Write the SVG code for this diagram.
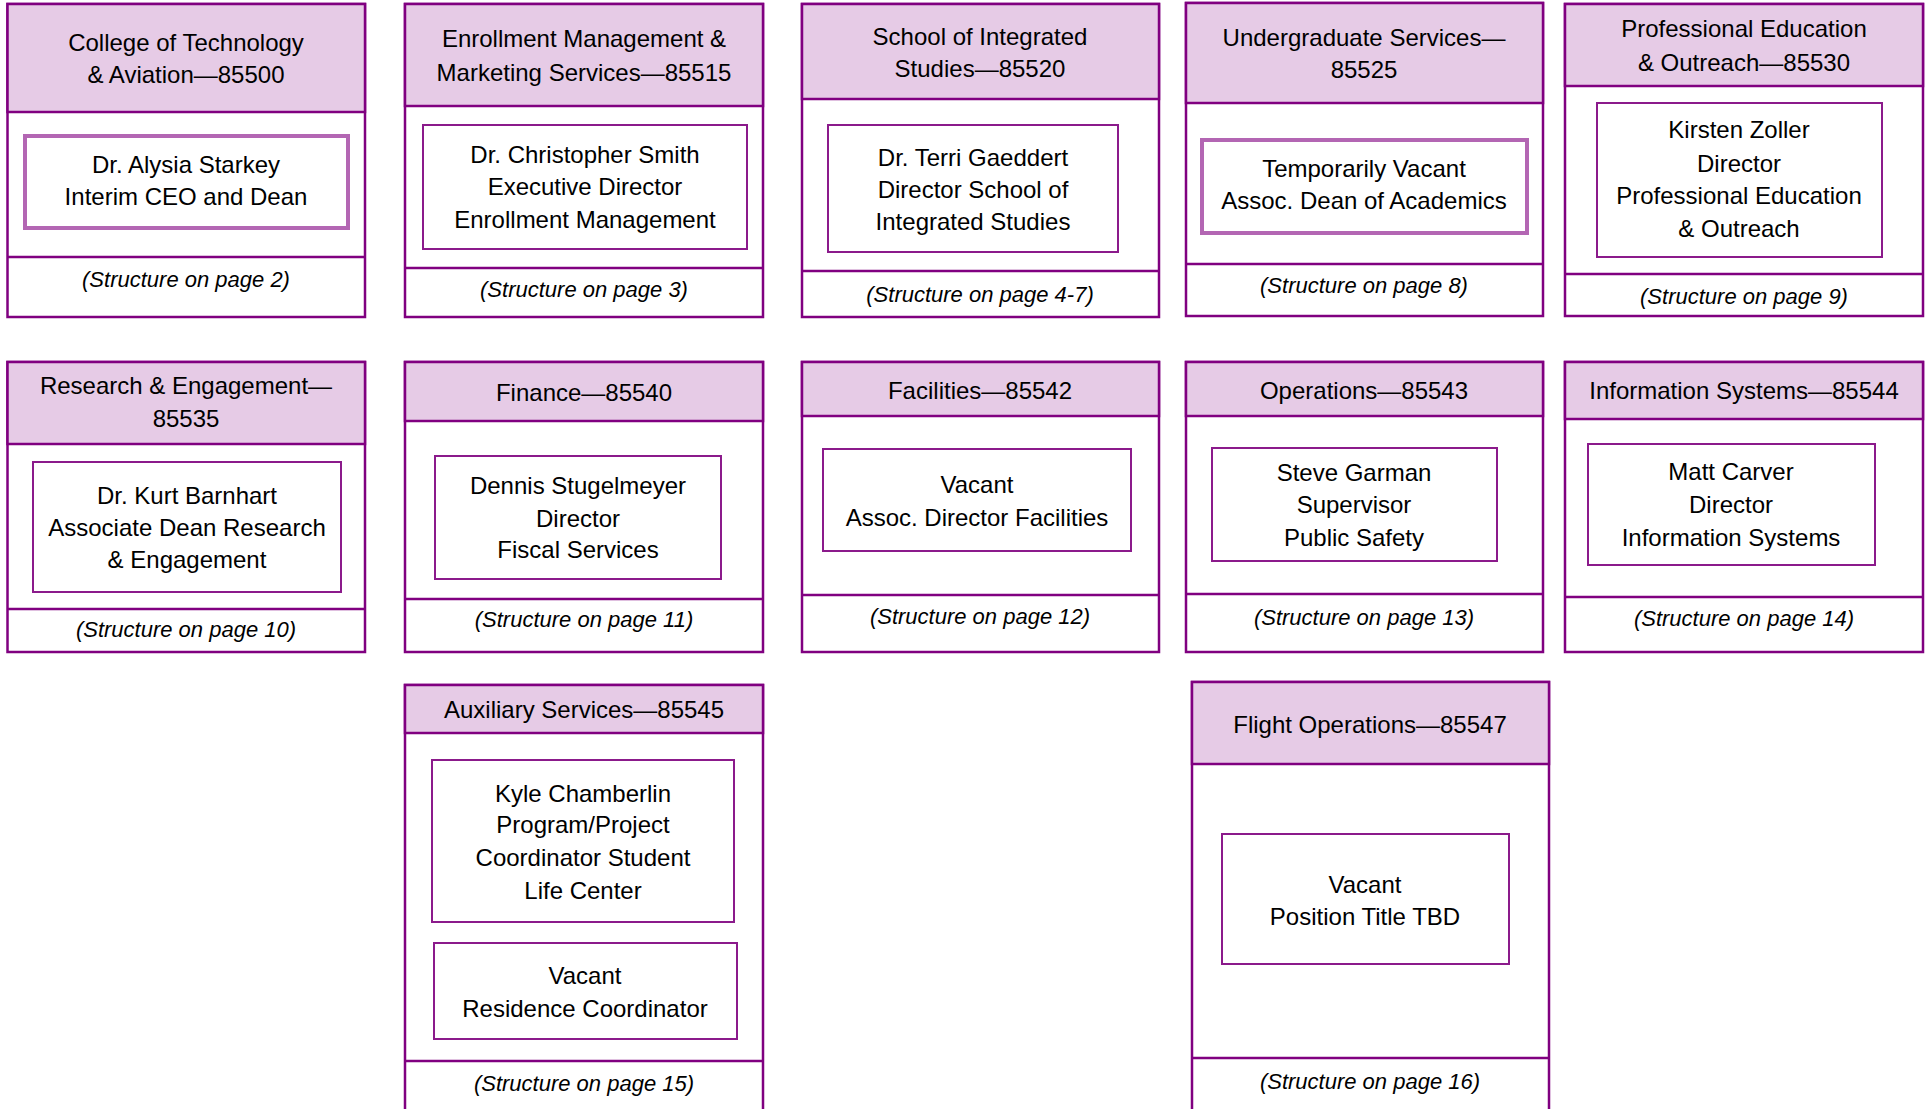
<svg xmlns="http://www.w3.org/2000/svg" width="1931" height="1109" viewBox="0 0 1931 1109">
<style>
.outer{fill:#fff;stroke:#800080;stroke-width:2.5}
.hdr{fill:#e6cbe6;stroke:#800080;stroke-width:2.5}
.sep{stroke:#800080;stroke-width:2.5}
.inner{fill:#fff;stroke:#8b1a8b;stroke-width:2}
.hl{fill:#fff;stroke:#b366b3;stroke-width:4}
text{font-family:"Liberation Sans",Arial,sans-serif;font-size:24px;text-anchor:middle;fill:#000}
.f{font-style:italic;font-size:22px}
</style>
<rect width="1931" height="1109" fill="#fff"/>
<g id="connectors"/>

<g id="n85500">
<rect class="outer" x="7.5" y="4" width="357.5" height="313"/>
<rect class="hdr" x="7.5" y="4" width="357.5" height="108"/>
<line class="sep" x1="7.5" y1="257" x2="365" y2="257"/>
<rect class="hl" x="25" y="136" width="323" height="92"/>
<text x="186" y="51">College of Technology</text>
<text x="186" y="83">&amp; Aviation—85500</text>
<text x="186" y="173">Dr. Alysia Starkey</text>
<text x="186" y="205">Interim CEO and Dean</text>
<text class="f" x="186" y="287">(Structure on page 2)</text>
</g>

<g id="n85515">
<rect class="outer" x="405" y="4" width="358" height="313"/>
<rect class="hdr" x="405" y="4" width="358" height="102"/>
<line class="sep" x1="405" y1="268" x2="763" y2="268"/>
<rect class="inner" x="423" y="125" width="324" height="124"/>
<text x="584" y="47">Enrollment Management &amp;</text>
<text x="584" y="81">Marketing Services—85515</text>
<text x="585" y="163">Dr. Christopher Smith</text>
<text x="585" y="195">Executive Director</text>
<text x="585" y="228">Enrollment Management</text>
<text class="f" x="584" y="297">(Structure on page 3)</text>
</g>

<g id="n85520">
<rect class="outer" x="802" y="4" width="357" height="313"/>
<rect class="hdr" x="802" y="4" width="357" height="95"/>
<line class="sep" x1="802" y1="271" x2="1159" y2="271"/>
<rect class="inner" x="828" y="125" width="290" height="127"/>
<text x="980" y="45">School of Integrated</text>
<text x="980" y="77">Studies—85520</text>
<text x="973" y="166">Dr. Terri Gaeddert</text>
<text x="973" y="198">Director School of</text>
<text x="973" y="230">Integrated Studies</text>
<text class="f" x="980" y="302">(Structure on page 4-7)</text>
</g>

<g id="n85525">
<rect class="outer" x="1186" y="3" width="357" height="313"/>
<rect class="hdr" x="1186" y="3" width="357" height="100"/>
<line class="sep" x1="1186" y1="264" x2="1543" y2="264"/>
<rect class="hl" x="1202" y="140" width="325" height="93"/>
<text x="1364" y="46">Undergraduate Services—</text>
<text x="1364" y="78">85525</text>
<text x="1364" y="177">Temporarily Vacant</text>
<text x="1364" y="209">Assoc. Dean of Academics</text>
<text class="f" x="1364" y="293">(Structure on page 8)</text>
</g>

<g id="n85530">
<rect class="outer" x="1565" y="4" width="358" height="312"/>
<rect class="hdr" x="1565" y="4" width="358" height="82"/>
<line class="sep" x1="1565" y1="274" x2="1923" y2="274"/>
<rect class="inner" x="1597" y="103" width="285" height="154"/>
<text x="1744" y="37">Professional Education</text>
<text x="1744" y="71">&amp; Outreach—85530</text>
<text x="1739" y="138">Kirsten Zoller</text>
<text x="1739" y="172">Director</text>
<text x="1739" y="204">Professional Education</text>
<text x="1739" y="237">&amp; Outreach</text>
<text class="f" x="1744" y="304">(Structure on page 9)</text>
</g>

<g id="n85535">
<rect class="outer" x="7.5" y="362" width="357.5" height="290"/>
<rect class="hdr" x="7.5" y="362" width="357.5" height="82"/>
<line class="sep" x1="7.5" y1="609" x2="365" y2="609"/>
<rect class="inner" x="33" y="462" width="308" height="130"/>
<text x="186" y="394">Research &amp; Engagement—</text>
<text x="186" y="427">85535</text>
<text x="187" y="504">Dr. Kurt Barnhart</text>
<text x="187" y="536">Associate Dean Research</text>
<text x="187" y="568">&amp; Engagement</text>
<text class="f" x="186" y="637">(Structure on page 10)</text>
</g>

<g id="n85540">
<rect class="outer" x="405" y="362" width="358" height="290"/>
<rect class="hdr" x="405" y="362" width="358" height="59"/>
<line class="sep" x1="405" y1="599" x2="763" y2="599"/>
<rect class="inner" x="435" y="456" width="286" height="123"/>
<text x="584" y="401">Finance—85540</text>
<text x="578" y="494">Dennis Stugelmeyer</text>
<text x="578" y="527">Director</text>
<text x="578" y="558">Fiscal Services</text>
<text class="f" x="584" y="627">(Structure on page 11)</text>
</g>

<g id="n85542">
<rect class="outer" x="802" y="362" width="357" height="290"/>
<rect class="hdr" x="802" y="362" width="357" height="54"/>
<line class="sep" x1="802" y1="595" x2="1159" y2="595"/>
<rect class="inner" x="823" y="449" width="308" height="102"/>
<text x="980" y="399">Facilities—85542</text>
<text x="977" y="493">Vacant</text>
<text x="977" y="526">Assoc. Director Facilities</text>
<text class="f" x="980" y="624">(Structure on page 12)</text>
</g>

<g id="n85543">
<rect class="outer" x="1186" y="362" width="357" height="290"/>
<rect class="hdr" x="1186" y="362" width="357" height="54"/>
<line class="sep" x1="1186" y1="594" x2="1543" y2="594"/>
<rect class="inner" x="1212" y="448" width="285" height="113"/>
<text x="1364" y="399">Operations—85543</text>
<text x="1354" y="481">Steve Garman</text>
<text x="1354" y="513">Supervisor</text>
<text x="1354" y="546">Public Safety</text>
<text class="f" x="1364" y="625">(Structure on page 13)</text>
</g>

<g id="n85544">
<rect class="outer" x="1565" y="362" width="358" height="290"/>
<rect class="hdr" x="1565" y="362" width="358" height="57"/>
<line class="sep" x1="1565" y1="597" x2="1923" y2="597"/>
<rect class="inner" x="1588" y="444" width="287" height="121"/>
<text x="1744" y="399">Information Systems—85544</text>
<text x="1731" y="480">Matt Carver</text>
<text x="1731" y="513">Director</text>
<text x="1731" y="546">Information Systems</text>
<text class="f" x="1744" y="626">(Structure on page 14)</text>
</g>

<g id="n85545">
<rect class="outer" x="405" y="685" width="358" height="440"/>
<rect class="hdr" x="405" y="685" width="358" height="48"/>
<line class="sep" x1="405" y1="1061" x2="763" y2="1061"/>
<rect class="inner" x="432" y="760" width="302" height="162"/>
<rect class="inner" x="434" y="943" width="303" height="96"/>
<text x="584" y="718">Auxiliary Services—85545</text>
<text x="583" y="802">Kyle Chamberlin</text>
<text x="583" y="833">Program/Project</text>
<text x="583" y="866">Coordinator Student</text>
<text x="583" y="899">Life Center</text>
<text x="585" y="984">Vacant</text>
<text x="585" y="1017">Residence Coordinator</text>
<text class="f" x="584" y="1091">(Structure on page 15)</text>
</g>

<g id="n85547">
<rect class="outer" x="1192" y="682" width="357" height="443"/>
<rect class="hdr" x="1192" y="682" width="357" height="82"/>
<line class="sep" x1="1192" y1="1058" x2="1549" y2="1058"/>
<rect class="inner" x="1222" y="834" width="287" height="130"/>
<text x="1370" y="733">Flight Operations—85547</text>
<text x="1365" y="893">Vacant</text>
<text x="1365" y="925">Position Title TBD</text>
<text class="f" x="1370" y="1089">(Structure on page 16)</text>
</g>
</svg>
